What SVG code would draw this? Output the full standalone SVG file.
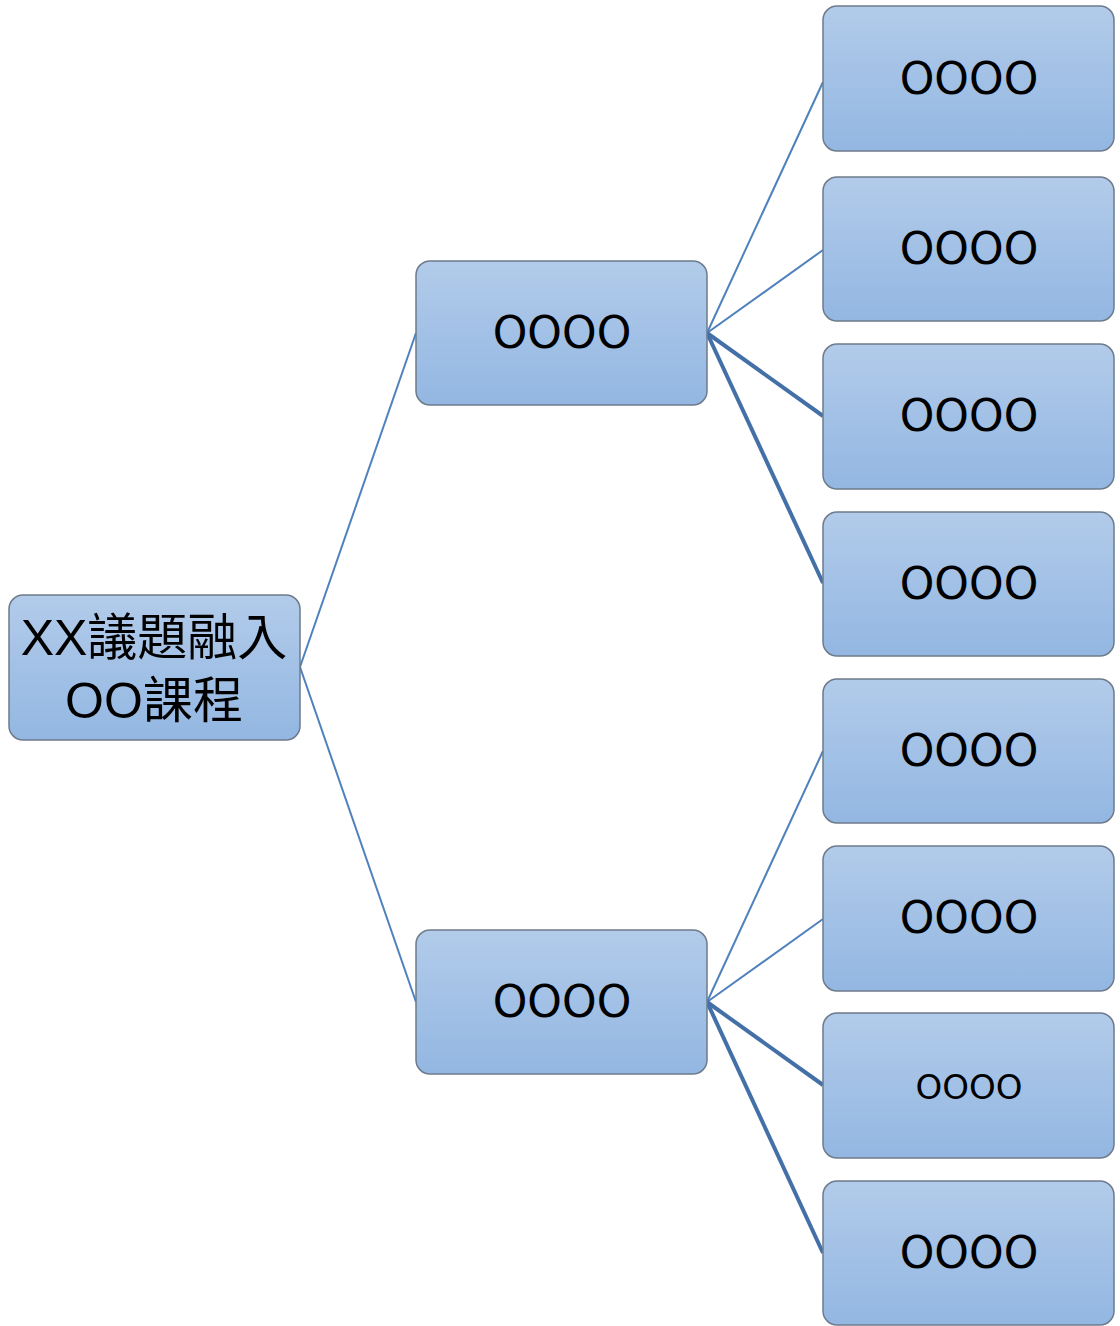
<svg xmlns="http://www.w3.org/2000/svg" width="1120" height="1326" viewBox="0 0 1120 1326">
<defs>
<linearGradient id="g" x1="0" y1="0" x2="0" y2="1">
<stop offset="0" stop-color="#b2cbea"/>
<stop offset="1" stop-color="#93b7e2"/>
</linearGradient>
</defs>
<style>
.box{fill:url(#g);stroke:#6e7b8b;stroke-width:1.5}
.t{font-family:"DejaVu Sans","Noto Sans CJK TC",sans-serif;font-size:44px;fill:#000;text-anchor:middle}
.r{font-family:"Liberation Sans","Noto Sans CJK TC",sans-serif;font-size:50px;fill:#000;text-anchor:middle}
.thin{stroke:#4f81bd;stroke-width:2;fill:none}
.thick{stroke:#4470a8;stroke-width:4;fill:none}
</style>
<rect width="1120" height="1326" fill="#fff"/>
<g id="connectors">
<line class="thin" x1="300" y1="667" x2="416" y2="333"/>
<line class="thin" x1="300" y1="667" x2="416" y2="1002"/>
<line class="thin" x1="707" y1="333" x2="823" y2="82"/>
<line class="thin" x1="707" y1="333" x2="823" y2="250"/>
<line class="thick" x1="707" y1="333" x2="823" y2="416"/>
<line class="thick" x1="707" y1="333" x2="823" y2="583"/>
<line class="thin" x1="707" y1="1002" x2="823" y2="751"/>
<line class="thin" x1="707" y1="1002" x2="823" y2="919"/>
<line class="thick" x1="707" y1="1002" x2="823" y2="1085"/>
<line class="thick" x1="707" y1="1002" x2="823" y2="1253"/>
</g>
<g id="root">
<rect class="box" x="9" y="595" width="291" height="145" rx="14"/>
<text class="r" x="154" y="655">XX議題融入</text>
<text class="r" x="154" y="718">OO課程</text>
</g>
<g id="mid1">
<rect class="box" x="416" y="261" width="291" height="144" rx="14"/>
<text class="t" x="562" y="348">OOOO</text>
</g>
<g id="mid2">
<rect class="box" x="416" y="930" width="291" height="144" rx="14"/>
<text class="t" x="562" y="1017">OOOO</text>
</g>
<g id="leaf1">
<rect class="box" x="823" y="6" width="291" height="145" rx="14"/>
<text class="t" x="969" y="94">OOOO</text>
</g>
<g id="leaf2">
<rect class="box" x="823" y="177" width="291" height="144" rx="14"/>
<text class="t" x="969" y="264">OOOO</text>
</g>
<g id="leaf3">
<rect class="box" x="823" y="344" width="291" height="145" rx="14"/>
<text class="t" x="969" y="431">OOOO</text>
</g>
<g id="leaf4">
<rect class="box" x="823" y="512" width="291" height="144" rx="14"/>
<text class="t" x="969" y="599">OOOO</text>
</g>
<g id="leaf5">
<rect class="box" x="823" y="679" width="291" height="144" rx="14"/>
<text class="t" x="969" y="766">OOOO</text>
</g>
<g id="leaf6">
<rect class="box" x="823" y="846" width="291" height="145" rx="14"/>
<text class="t" x="969" y="933">OOOO</text>
</g>
<g id="leaf7">
<rect class="box" x="823" y="1013" width="291" height="145" rx="14"/>
<text class="t" x="969" y="1099" style="font-size:34px">OOOO</text>
</g>
<g id="leaf8">
<rect class="box" x="823" y="1181" width="291" height="144" rx="14"/>
<text class="t" x="969" y="1268">OOOO</text>
</g>
</svg>
